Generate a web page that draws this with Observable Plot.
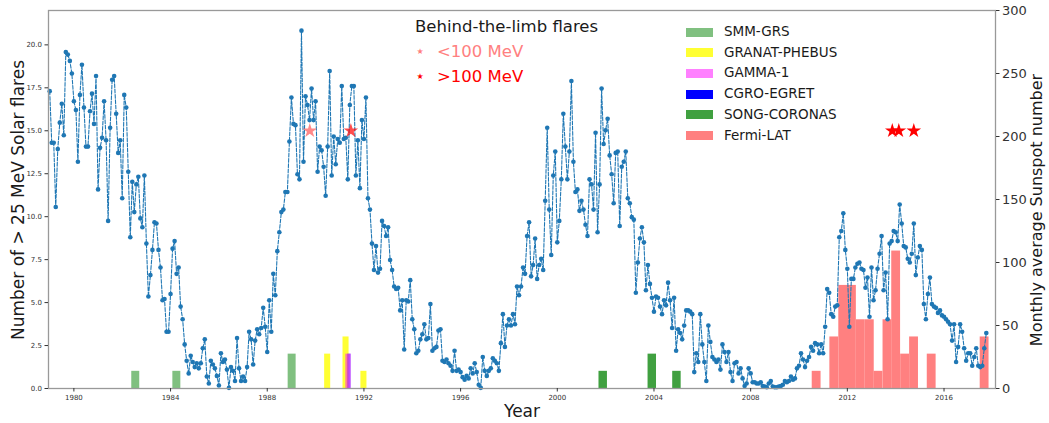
<!DOCTYPE html>
<html><head><meta charset="utf-8">
<script src="https://cdn.jsdelivr.net/npm/d3@7"></script>
<script src="https://cdn.jsdelivr.net/npm/@observablehq/plot@0.6"></script>
<style>
body{margin:0;background:#fff;}
#wrap{position:relative;width:1049px;height:423px;font-family:"DejaVu Sans",sans-serif;}
#wrap svg{position:absolute;left:0;top:0;}
.lab{position:absolute;color:#1a1a1a;white-space:nowrap;line-height:1;}
.rot{transform:translate(-50%,-50%) rotate(-90deg);}
.ctr{transform:translate(-50%,-50%);}
.sw{position:absolute;width:27px;height:9px;}
</style></head><body><div id="wrap"></div>
<script>
// ---- data ----
const sunspotStart = 1979; // monthly values from January 1979
const sunspot = [
236,195,195,144,190,211,226,201,267,265,260,250,
228,221,180,233,257,223,192,192,220,234,210,248,
158,191,199,228,197,133,207,245,248,218,187,197,
151,233,223,172,120,164,140,162,168,135,128,169,
115,73,90,110,132,131,110,96,70,71,45,45,
75,111,117,91,96,65,55,35,22,12,26,21,
17,20,16,20,32,39,9.5,4,22,19,16,10,
2.4,28,21,23,15,0.5,17,14,6,40,16,6,
9.5,6,17,45,39,19,38,47,43,48,64,49,
29,70,45,91,74,109,124,140,142,156,156,196,
231,210,209,170,166,284,180,232,225,213,238,213,
228,172,192,189,176,153,192,252,169,200,178,198,
195,240,198,199,166,225,240,240,169,197,159,213,
198,231,151,
142,115,94,113,92,95,133,129,121,128,
102,94,81,79,80,62,70,31,70,69,
86,55,47,28,30,39,43,51,39,40,
67,30,32,33,46,47,22,21,23,20,
18,14,30,14,15,13,9,7,10,8,
16,12,20,13,3,0.5,25,14,10,14,
16,24,22,20,14,36,59,33,50,55,
50,59,51,81,74,81,96,91,121,132,
89,98,119,87,98,103,94,149,207,142,
106,169,188,116,133,166,218,192,166,188,
244,180,156,158,141,149,142,130,121,166,
162,142,203,124,162,238,194,205,214,185,
170,147,187,188,129,176,180,188,151,147,
136,134,76,100,119,128,116,78,98,83,
72,61,73,72,65,59,70,66,84,70,
48,72,30,47,44,39,50,62,62,
61,59,13,28,21,59,35,21,6,50,
37,25,23,21,23,15,35,29,21,29,
13,6,20,21,12,16,8,2,4,16,
12,5,5,4,4,5,2,1.6,1,4,
6,1.6,1,1,1.6,2,3,6,5,6,
9.5,7,8,16,18,28,23,17,22,25,
33,30,36,35,28,35,28,49,79,76,
59,57,65,66,120,125,139,110,95,49,
87,87,96,99,100,95,94,80,88,57,
96,70,78,95,107,121,78,92,55,115,
117,125,124,117,146,131,113,112,103,100,
107,131,90,104,113,110,67,55,75,88,
67,65,64,60,62,58,57,55,53,51,
38,51,21,33,51,45,32,22,28,28,
18,25,32,18,17,18,32,44
];

// flare counts per instrument: bin centre (year) and number of > 25 MeV flares
const smmYears = [1982.56, 1984.26, 1989.03];
const smmCounts = [1, 1, 2];
const granatYears = [1990.50, 1991.26, 1992.00];
const granatCounts = [2, 3, 1];
const gammaYears = [1991.36];
const gammaCounts = [2];
const egretYears = [1991.40];
const egretCounts = [2];
const songYears = [2001.90, 2003.93, 2004.95];
const songCounts = [1, 2, 1];
const fermiYears = [2010.73, 2011.46, 2011.83, 2012.19, 2012.56, 2012.93, 2013.29, 2013.66, 2014.02, 2014.39, 2014.76, 2015.49, 2017.68];
const fermiCounts = [1, 3, 6, 6, 4, 4, 1, 4, 8, 2, 3, 2, 3];

// behind-the-limb flares
const btlLowYears = [1989.76];
const btlHighYears = [1991.46, 2013.86, 2014.13, 2014.75];
const btlLevel = 15;

const instruments = ["SMM-GRS", "GRANAT-PHEBUS", "GAMMA-1", "CGRO-EGRET", "SONG-CORONAS", "Fermi-LAT"];
const xTicks = [1980, 1984, 1988, 1992, 1996, 2000, 2004, 2008, 2012, 2016];
const yTicks = [0, 2.5, 5, 7.5, 10, 12.5, 15, 17.5, 20];
const rightTicks = [0, 50, 100, 150, 200, 250, 300];

// ---- styling ----
const colors = {"SMM-GRS":"#80c080","GRANAT-PHEBUS":"#ffff33","GAMMA-1":"#ff00ff","CGRO-EGRET":"#0000ff","SONG-CORONAS":"#40a040","Fermi-LAT":"#ff8080"};
const opac = {"SMM-GRS":1,"GRANAT-PHEBUS":1,"GAMMA-1":0.5,"CGRO-EGRET":0.45,"SONG-CORONAS":1,"Fermi-LAT":1};
const widths = {"SMM-GRS":0.33,"GRANAT-PHEBUS":0.25,"GAMMA-1":0.22,"CGRO-EGRET":0.14,"SONG-CORONAS":0.35,"Fermi-LAT":0.366};
const k = 22/300; // sunspot (right axis) -> left axis units

const pack = (name, ys, cs) => ys.map((y,i)=>({name, year:y, count:cs[i]}));
const barSets = [
  pack("SMM-GRS", smmYears, smmCounts),
  pack("GRANAT-PHEBUS", granatYears, granatCounts),
  pack("CGRO-EGRET", egretYears, egretCounts),
  pack("GAMMA-1", gammaYears, gammaCounts),
  pack("SONG-CORONAS", songYears, songCounts),
  pack("Fermi-LAT", fermiYears, fermiCounts)
];
const months = sunspot.map((v,i)=>({t: sunspotStart + i/12, v}));
const stars = [
  ...btlLowYears.map(y=>({year:y, kind:"low"})),
  ...btlHighYears.map(y=>({year:y, kind:"high"}))
];

const barMarks = barSets.map(set => {
  const nm = set[0].name;
  return Plot.rect(set, {
    x1: d=>d.year - widths[nm]/2, x2: d=>d.year + widths[nm]/2,
    y1: 0, y2: "count", fill: colors[nm], fillOpacity: opac[nm]
  });
});

const chart = Plot.plot({
  width: 1049, height: 423,
  marginLeft: 48, marginRight: 54, marginTop: 10, marginBottom: 35,
  x: {domain: [1978.95, 2018.13]},
  y: {domain: [0, 22]},
  style: {fontFamily: "DejaVu Sans", background: "white", color: "#333"},
  marks: [
    ...barMarks,
    Plot.line(months, {x:"t", y:d=>d.v*k, stroke:"#1f77b4", strokeWidth:1.1, strokeDasharray:"3.7,1.6"}),
    Plot.dot(months, {x:"t", y:d=>d.v*k, r:2.3, fill:"#1f77b4", stroke:"none"}),
    Plot.dot(stars, {x:"year", y:()=>btlLevel, symbol:"star", r:4.6, stroke:"none",
      fill:d=>d.kind==="low" ? "#ff6b6b" : "#ff0000",
      fillOpacity:d=>d.kind==="low" ? 0.8 : (d.year<2000 ? 0.7 : 1)}),
    Plot.frame({stroke:"#999", strokeWidth:1.3}),
    Plot.axisX({ticks:xTicks, tickFormat:d=>String(d), tickSize:3.5, fontSize:7, label:null, tickPadding:3}),
    Plot.axisY({ticks:yTicks, tickFormat:d=>d.toFixed(1), tickSize:3.5, fontSize:7, label:null, tickPadding:3}),
    Plot.axisY({anchor:"right", ticks:rightTicks.map(v=>v*k), tickFormat:d=>String(Math.round(d/k)), tickSize:3.5, fontSize:13, label:null, tickPadding:3})
  ]
});

const wrap = document.getElementById("wrap");
wrap.appendChild(chart);

function lab(text, x, y, size, cls, color) {
  const d = document.createElement("div");
  d.className = "lab " + (cls||"");
  d.textContent = text;
  d.style.left = x + "px"; d.style.top = y + "px"; d.style.fontSize = size + "px";
  if (color) d.style.color = color;
  wrap.appendChild(d);
  return d;
}
// axis titles
lab("Number of > 25 MeV Solar flares", 18, 200, 17, "rot");
lab("Monthly average Sunspot number", 1037, 210, 16, "rot");
lab("Year", 522, 411, 17, "ctr");

// instrument legend
const legendSw = {"SMM-GRS":"#80c080","GRANAT-PHEBUS":"#ffff33","GAMMA-1":"#ff80ff","CGRO-EGRET":"#0000ff","SONG-CORONAS":"#40a040","Fermi-LAT":"#ff8080"};
instruments.forEach((nm,i)=>{
  const cy = 32 + i*20.7;
  const s = document.createElement("div");
  s.className = "sw"; s.style.left = "686px"; s.style.top = (cy-4.5)+"px"; s.style.background = legendSw[nm];
  wrap.appendChild(s);
  const t = lab(nm, 724, cy, 13.5, "");
  t.style.transform = "translateY(-50%)";
});

// behind-the-limb legend
const t1 = lab("Behind-the-limb flares", 415, 27, 16.5, ""); t1.style.transform="translateY(-50%)";
const s1 = lab("★", 420, 52, 8, "ctr", "#ff8080");
const t2 = lab("<100 MeV", 437, 52, 16.5, "", "#ff8080"); t2.style.transform="translateY(-50%)";
const s2 = lab("★", 420, 77, 8, "ctr", "#ff0000");
const t3 = lab(">100 MeV", 437, 77, 16.5, "", "#ff0000"); t3.style.transform="translateY(-50%)";
</script>
</body></html>
